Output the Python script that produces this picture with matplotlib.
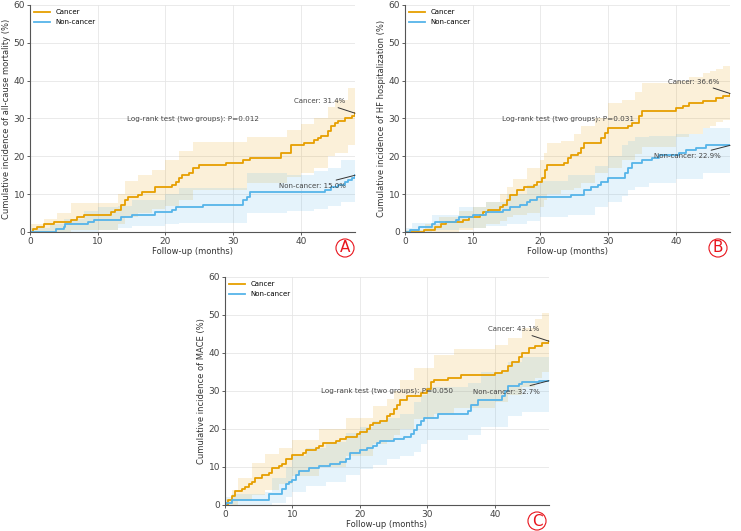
import numpy as np
import matplotlib
matplotlib.use('Agg')
import matplotlib.pyplot as plt

plt.rcParams['font.family'] = 'DejaVu Sans'

ORANGE = '#E69F00'
BLUE = '#56B4E9'

# ---- panel A: all-cause mortality ----
a_can_t = [0.5, 1, 2, 3.5, 6, 7, 8, 12, 12.5, 13.5, 14, 14.5, 16, 16.5, 18.5, 21, 21.5, 22, 22.5,
           23.5, 24, 25, 29, 31.5, 32.5, 37, 38.5, 40.5, 42, 42.5, 43, 44, 44.5, 45, 45.5, 46.5, 47.5, 48]
a_can_y = [0.7, 1.3, 2.0, 2.6, 3.3, 3.9, 4.6, 5.2, 5.9, 7.2, 8.5, 9.2, 9.8, 10.5, 11.8, 12.4, 13.1, 14.4, 15.0,
           15.7, 17.0, 17.6, 18.3, 19.0, 19.6, 20.9, 22.9, 23.5, 24.2, 24.8, 25.5, 26.8, 28.1, 28.8, 29.4, 30.1, 30.7, 31.4]
a_non_t = [3.8, 5, 5.2, 8.5, 9.5, 13.5, 15, 18.5, 21, 21.5, 25.5, 31.5, 32, 32.5, 43.5, 44.5, 45.5, 46.5, 47, 47.5, 48]
a_non_y = [0.7, 1.3, 2.0, 2.6, 3.3, 3.9, 4.6, 5.2, 5.9, 6.5, 7.2, 8.5, 9.2, 10.5, 11.1, 11.8, 12.4, 13.1, 13.7, 14.4, 15.0]
a_can_band_t = [0, 2, 4, 6, 13, 14, 16, 18, 20, 22, 24, 32, 38, 40, 42, 44, 45, 47, 48]
a_can_lo = [0, 0, 0, 0.5, 2, 4, 5, 6, 7, 8.5, 11, 13, 14.5, 15.5, 17, 20, 21, 23, 24]
a_can_hi = [2, 3.5, 5, 7.6, 10, 13.5, 15, 16.5, 19, 21.5, 23.7, 25, 27, 28.5, 30, 33, 35, 38, 38.5]
a_non_band_t = [0, 3, 5, 8, 10, 13, 15, 20, 22, 32, 38, 42, 44, 46, 48]
a_non_lo = [0, 0, 0, 0, 0.5, 1, 1.5, 2, 2.5, 5, 5.5, 6, 7, 8, 9.8]
a_non_hi = [1, 2, 3.5, 5.5, 6.5, 7, 8.5, 10, 11.5, 15.5, 15, 16, 17, 19, 21]

# ---- panel B: HF hospitalization ----
b_can_t = [2.8, 4.5, 5.3, 6, 8.5, 9.5, 11, 11.5, 12.3, 14, 14.5, 15, 15.5, 16.5, 17.5, 19, 19.5, 20.3, 20.6, 21,
           23.5, 24, 24.5, 25.5, 26, 26.5, 29, 29.5, 30, 33, 33.5, 34.5, 35, 40, 41, 42, 44, 46, 47, 48]
b_can_y = [0.6, 1.3, 2.0, 2.6, 3.3, 3.9, 4.6, 5.2, 5.9, 6.5, 7.2, 8.5, 9.8, 11.1, 11.8, 12.4, 13.1, 14.4, 16.3, 17.6,
           18.3, 19.6, 20.3, 21.0, 22.2, 23.5, 24.8, 26.1, 27.4, 28.0, 28.7, 30.7, 32.0, 32.7, 33.3, 34.0, 34.6, 35.3, 35.9, 36.6]
b_non_t = [0.8, 2, 4, 4.5, 7.5, 8, 10, 12, 14.5, 15.5, 17, 18, 18.5, 19.5, 24.5, 26.5, 27.5, 28.5, 29, 30,
           32.5, 33, 33.5, 35, 36.5, 37.5, 40.5, 41.5, 43, 44.5]
b_non_y = [0.6, 1.3, 2.0, 2.6, 3.3, 3.9, 4.6, 5.2, 5.9, 6.5, 7.2, 7.8, 8.5, 9.2, 9.8, 11.1, 11.8, 12.4, 13.1, 14.4,
           15.7, 17.0, 18.3, 19.0, 19.6, 20.3, 20.9, 21.6, 22.2, 22.9]
b_can_band_t = [0, 3, 5, 8, 10, 12, 14, 15, 16, 18, 20, 20.5, 21, 23, 25, 26, 28, 30, 32, 34, 35, 40, 42, 44, 45, 46, 47, 48]
b_can_lo = [0, 0, 0, 0.5, 1, 2, 3, 4, 4.5, 5, 6.5, 8.5, 10, 11, 11.5, 13, 15.5, 17, 19, 20.5, 22.5, 25, 26, 27.5, 28, 29, 29.5, 29.5]
b_can_hi = [0.5, 2, 4, 5.5, 6.5, 8, 10, 12, 14, 17, 19, 21, 23.5, 24, 26, 28, 30, 34, 35, 37, 39.3, 40, 41, 42, 42.5, 43, 44, 44.5]
b_non_band_t = [0, 1, 4, 8, 12, 15, 18, 20, 24, 28, 30, 32, 33, 34, 36, 40, 44, 48]
b_non_lo = [0, 0, 0.5, 1, 1.5, 2, 3, 4, 4.5, 6.5, 8, 9.5, 11, 12, 13, 14, 15.5, 16.5]
b_non_hi = [1, 2.5, 4.5, 6.5, 8, 10, 12.5, 13.5, 15, 17.5, 20, 23, 24, 25, 25.5, 26, 27.5, 29.5]

# ---- panel C: MACE ----
c_can_t = [0.5, 1, 1.5, 2.5, 3, 3.5, 4, 4.5, 5.5, 6.5, 7, 8, 8.5, 9, 10, 11.5, 12, 13.5, 14, 14.5,
           16.5, 17, 18, 19.5, 20, 21, 21.5, 22, 23, 24, 24.5, 25, 25.5, 26, 27, 29, 30, 30.5, 31, 33,
           35, 40, 41, 42, 42.5, 43.5, 44, 45, 46, 47, 48]
c_can_y = [1.2, 2.4, 3.6, 4.2, 4.8, 5.4, 6.0, 7.2, 7.8, 8.4, 9.6, 10.2, 10.8, 12.0, 13.2, 13.8, 14.4, 15.0, 15.6, 16.2,
           16.8, 17.4, 18.0, 18.6, 19.2, 20.0, 21.0, 21.6, 22.2, 23.4, 24.0, 25.2, 26.4, 27.6, 28.8, 29.4, 30.6, 32.4, 32.9, 33.5,
           34.1, 34.7, 35.3, 36.5, 37.7, 38.9, 40.1, 41.3, 41.9, 42.5, 43.1]
c_non_t = [0.2, 1, 6.5, 8.5, 9, 9.5, 10, 10.5, 11, 12.5, 14, 15.5, 17, 18, 18.5, 20, 21, 22, 22.5, 23,
           25, 26.5, 27.5, 28, 28.5, 29, 29.5, 31.5, 36, 36.5, 37.5, 41, 41.5, 42, 43.5, 44, 46.5]
c_non_y = [0.6, 1.2, 3.0, 4.2, 5.4, 6.0, 6.6, 7.8, 9.0, 9.6, 10.2, 10.8, 11.4, 12.0, 13.8, 14.4, 15.0, 15.6, 16.2, 16.8,
           17.4, 18.0, 18.6, 19.8, 21.0, 22.2, 22.8, 24.0, 24.6, 26.4, 27.6, 28.8, 30.0, 31.2, 31.8, 32.4, 32.7]
c_can_band_t = [0, 1, 2, 4, 6, 8, 10, 14, 18, 22, 24, 25, 26, 28, 31, 34, 40, 42, 44, 46, 47, 48]
c_can_lo = [0, 0, 1, 2.5, 4, 5.5, 7.5, 10, 13, 16, 17, 18.5, 20, 22.5, 24, 25.5, 27, 29, 31, 33.5, 35, 35.1]
c_can_hi = [1.5, 4, 7, 11, 13.5, 15, 17, 20, 23, 26, 28, 30, 33, 36, 39.5, 41, 42, 44, 46.6, 49, 50.5, 50.5]
c_non_band_t = [0, 1, 6, 7, 9, 10, 12, 15, 18, 20, 22, 24, 26, 28, 29, 30, 36, 38, 42, 44, 48]
c_non_lo = [0, 0, 0, 0.5, 2, 3.5, 5, 6, 8, 9.5, 10.5, 12, 13, 14, 16, 17, 18.5, 20.5, 23.5, 24.5, 25.5]
c_non_hi = [2, 3, 3.5, 7, 10, 13, 15, 16.5, 19, 20.5, 22, 23, 24, 27, 29, 31, 32, 35, 37.5, 39, 39.5]

fig = plt.figure(figsize=(7.41, 5.31), dpi=100)
axA = fig.add_axes([0.0405, 0.5631, 0.4386, 0.4275])
axB = fig.add_axes([0.5466, 0.5631, 0.4386, 0.4275])
axC = fig.add_axes([0.3036, 0.0490, 0.4372, 0.4294])


def panel(ax, ylabel, can_t, can_y, non_t, non_y, can_bt, can_lo, can_hi, non_bt, non_lo, non_hi, p):
    ax.fill_between(can_bt, can_lo, can_hi, step='post', color=ORANGE, alpha=0.15, lw=0)
    ax.fill_between(non_bt, non_lo, non_hi, step='post', color=BLUE, alpha=0.15, lw=0)
    ax.step([0] + can_t, [0] + can_y, where='post', color=ORANGE, lw=1.3, label='Cancer')
    ax.step([0] + non_t + [48], [0] + non_y + [non_y[-1]], where='post', color=BLUE, lw=1.3, label='Non-cancer')
    ax.set_xlim(0, 48)
    ax.set_ylim(0, 60)
    ax.set_xticks([0, 10, 20, 30, 40])
    ax.set_yticks([0, 10, 20, 30, 40, 50, 60])
    ax.grid(True, color='#e6e6e6', lw=0.6)
    ax.set_axisbelow(True)
    for s in ['top', 'right']:
        ax.spines[s].set_visible(False)
    for s in ['left', 'bottom']:
        ax.spines[s].set_color('#555555')
        ax.spines[s].set_linewidth(0.8)
    ax.tick_params(labelsize=6.5, length=2, width=0.6, colors='#444444', pad=1.5)
    ax.set_xlabel('Follow-up (months)', fontsize=6, color='#333333', labelpad=1)
    ax.set_ylabel(ylabel, fontsize=6, color='#333333', labelpad=2)
    ax.legend(loc='upper left', frameon=False, fontsize=5, handlelength=2.3,
              borderaxespad=0.2, labelspacing=0.6)
    ax.text(24, 30, 'Log-rank test (two groups): P=%s' % p, fontsize=5.2, color='#444444',
            ha='center', va='center')
    vc = can_y[-1]
    vn = non_y[-1]
    ax.annotate('Cancer: %.1f%%' % vc, xy=(48, vc), xytext=(42.7, vc + 3.1),
                fontsize=5, color='#444444', ha='center', va='center',
                arrowprops=dict(arrowstyle='-', color='#333333', lw=0.7, shrinkA=1, shrinkB=0))
    ax.annotate('Non-cancer: %.1f%%' % vn, xy=(48, vn), xytext=(41.7, vn - 2.9),
                fontsize=5, color='#444444', ha='center', va='center',
                arrowprops=dict(arrowstyle='-', color='#333333', lw=0.7, shrinkA=1, shrinkB=0))


panel(axA, 'Cumulative incidence of all-cause mortality (%)', a_can_t, a_can_y, a_non_t, a_non_y,
      a_can_band_t, a_can_lo, a_can_hi, a_non_band_t, a_non_lo, a_non_hi, '0.012')
panel(axB, 'Cumulative incidence of HF hospitalization (%)', b_can_t, b_can_y, b_non_t, b_non_y,
      b_can_band_t, b_can_lo, b_can_hi, b_non_band_t, b_non_lo, b_non_hi, '0.031')
panel(axC, 'Cumulative incidence of MACE (%)', c_can_t, c_can_y, c_non_t, c_non_y,
      c_can_band_t, c_can_lo, c_can_hi, c_non_band_t, c_non_lo, c_non_hi, '0.050')

# circled panel letters
for letter, x, y in [('A', 345, 248), ('B', 718, 248), ('C', 537, 521)]:
    fig.text(x / 741, 1 - y / 531, letter, fontsize=11, color='#e8141c', ha='center', va='center',
             bbox=dict(boxstyle='circle,pad=0.1', fc='white', ec='#e8141c', lw=0.8))

fig.savefig('out.png', dpi=100)
